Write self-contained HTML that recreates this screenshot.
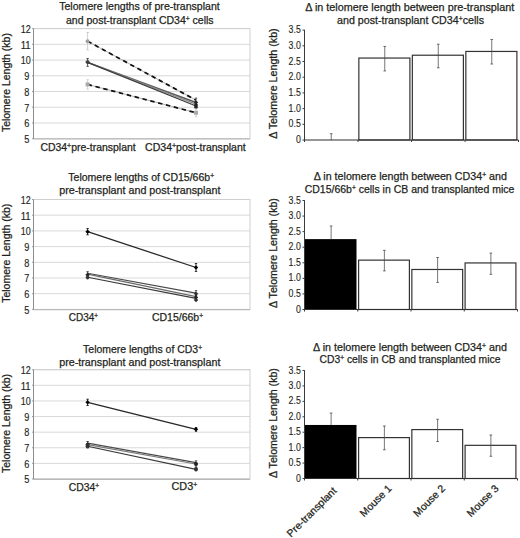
<!DOCTYPE html>
<html><head><meta charset="utf-8"><style>html,body{margin:0;padding:0;background:#fff;width:520px;height:538px;overflow:hidden}svg{display:block}</style></head>
<body><svg width="520" height="538" viewBox="0 0 520 538" font-family='"Liberation Sans", sans-serif'>
<rect width="520" height="538" fill="#fff"/>
<line x1="33.50" y1="122.97" x2="250.00" y2="122.97" stroke="#d9d9d9" stroke-width="1" />
<line x1="33.50" y1="107.24" x2="250.00" y2="107.24" stroke="#d9d9d9" stroke-width="1" />
<line x1="33.50" y1="91.51" x2="250.00" y2="91.51" stroke="#d9d9d9" stroke-width="1" />
<line x1="33.50" y1="75.79" x2="250.00" y2="75.79" stroke="#d9d9d9" stroke-width="1" />
<line x1="33.50" y1="60.06" x2="250.00" y2="60.06" stroke="#d9d9d9" stroke-width="1" />
<line x1="33.50" y1="44.33" x2="250.00" y2="44.33" stroke="#d9d9d9" stroke-width="1" />
<line x1="33.50" y1="28.60" x2="250.00" y2="28.60" stroke="#d9d9d9" stroke-width="1" />
<rect x="33.50" y="28.60" width="216.50" height="110.10" fill="none" stroke="#cfcfcf" stroke-width="1"/>
<line x1="33.50" y1="138.90" x2="250.00" y2="138.90" stroke="#bababa" stroke-width="1.4" />
<line x1="33.50" y1="28.60" x2="33.50" y2="138.70" stroke="#8c8c8c" stroke-width="1" />
<line x1="32.00" y1="138.70" x2="33.50" y2="138.70" stroke="#9a9a9a" stroke-width="1" />
<line x1="32.00" y1="122.97" x2="33.50" y2="122.97" stroke="#9a9a9a" stroke-width="1" />
<line x1="32.00" y1="107.24" x2="33.50" y2="107.24" stroke="#9a9a9a" stroke-width="1" />
<line x1="32.00" y1="91.51" x2="33.50" y2="91.51" stroke="#9a9a9a" stroke-width="1" />
<line x1="32.00" y1="75.79" x2="33.50" y2="75.79" stroke="#9a9a9a" stroke-width="1" />
<line x1="32.00" y1="60.06" x2="33.50" y2="60.06" stroke="#9a9a9a" stroke-width="1" />
<line x1="32.00" y1="44.33" x2="33.50" y2="44.33" stroke="#9a9a9a" stroke-width="1" />
<line x1="32.00" y1="28.60" x2="33.50" y2="28.60" stroke="#9a9a9a" stroke-width="1" />
<text x="29.40" y="143.00" font-size="10.4" text-anchor="end" fill="#231f20" stroke="#231f20" stroke-width="0.15" textLength="5.1" lengthAdjust="spacingAndGlyphs" >5</text>
<text x="29.40" y="127.27" font-size="10.4" text-anchor="end" fill="#231f20" stroke="#231f20" stroke-width="0.15" textLength="5.1" lengthAdjust="spacingAndGlyphs" >6</text>
<text x="29.40" y="111.54" font-size="10.4" text-anchor="end" fill="#231f20" stroke="#231f20" stroke-width="0.15" textLength="5.1" lengthAdjust="spacingAndGlyphs" >7</text>
<text x="29.40" y="95.81" font-size="10.4" text-anchor="end" fill="#231f20" stroke="#231f20" stroke-width="0.15" textLength="5.1" lengthAdjust="spacingAndGlyphs" >8</text>
<text x="29.40" y="80.09" font-size="10.4" text-anchor="end" fill="#231f20" stroke="#231f20" stroke-width="0.15" textLength="5.1" lengthAdjust="spacingAndGlyphs" >9</text>
<text x="30.70" y="64.36" font-size="10.4" text-anchor="end" fill="#231f20" stroke="#231f20" stroke-width="0.15" textLength="10.0" lengthAdjust="spacingAndGlyphs" >10</text>
<text x="30.70" y="48.63" font-size="10.4" text-anchor="end" fill="#231f20" stroke="#231f20" stroke-width="0.15" textLength="10.0" lengthAdjust="spacingAndGlyphs" >11</text>
<text x="30.70" y="32.90" font-size="10.4" text-anchor="end" fill="#231f20" stroke="#231f20" stroke-width="0.15" textLength="10.0" lengthAdjust="spacingAndGlyphs" >12</text>
<line x1="87.60" y1="62.42" x2="196.00" y2="102.52" stroke="#5a5a5a" stroke-width="1.5" />
<line x1="87.60" y1="62.42" x2="196.00" y2="104.10" stroke="#8a8a8a" stroke-width="1.3" />
<line x1="87.60" y1="62.42" x2="196.00" y2="105.98" stroke="#3c3c3c" stroke-width="1.3" />
<line x1="87.60" y1="41.18" x2="196.00" y2="100.16" stroke="#9a9a9a" stroke-width="0.8" />
<line x1="87.60" y1="41.18" x2="196.00" y2="100.16" stroke="#111" stroke-width="1.75" stroke-dasharray="4.4 3.7"/>
<line x1="87.60" y1="84.44" x2="196.00" y2="112.75" stroke="#9a9a9a" stroke-width="0.8" />
<line x1="87.60" y1="84.44" x2="196.00" y2="112.75" stroke="#111" stroke-width="1.75" stroke-dasharray="4.4 3.7"/>
<line x1="87.60" y1="32.53" x2="87.60" y2="49.83" stroke="#c4c4c4" stroke-width="0.8" />
<line x1="86.40" y1="32.53" x2="88.80" y2="32.53" stroke="#c4c4c4" stroke-width="0.8" />
<line x1="86.40" y1="49.83" x2="88.80" y2="49.83" stroke="#c4c4c4" stroke-width="0.8" />
<circle cx="87.60" cy="41.18" r="2" fill="#a0a0a0"/>
<line x1="87.60" y1="58.48" x2="87.60" y2="66.35" stroke="#333" stroke-width="0.8" />
<line x1="86.40" y1="58.48" x2="88.80" y2="58.48" stroke="#333" stroke-width="0.8" />
<line x1="86.40" y1="66.35" x2="88.80" y2="66.35" stroke="#333" stroke-width="0.8" />
<path d="M87.60 60.22 L89.80 62.42 L87.60 64.62 L85.40 62.42Z" fill="#333"/>
<path d="M87.60 59.43 L89.80 61.63 L87.60 63.83 L85.40 61.63Z" fill="#444"/>
<line x1="87.60" y1="79.72" x2="87.60" y2="89.15" stroke="#c8c8c8" stroke-width="0.8" />
<line x1="86.40" y1="79.72" x2="88.80" y2="79.72" stroke="#c8c8c8" stroke-width="0.8" />
<line x1="86.40" y1="89.15" x2="88.80" y2="89.15" stroke="#c8c8c8" stroke-width="0.8" />
<rect x="85.60" y="82.44" width="4" height="4" fill="#a8a8a8"/>
<line x1="196.00" y1="98.12" x2="196.00" y2="106.93" stroke="#333" stroke-width="0.8" />
<line x1="194.80" y1="98.12" x2="197.20" y2="98.12" stroke="#333" stroke-width="0.8" />
<line x1="194.80" y1="106.93" x2="197.20" y2="106.93" stroke="#333" stroke-width="0.8" />
<path d="M196.00 100.32 L198.20 102.52 L196.00 104.72 L193.80 102.52Z" fill="#333"/>
<line x1="196.00" y1="101.74" x2="196.00" y2="108.03" stroke="#222" stroke-width="0.8" />
<line x1="194.80" y1="101.74" x2="197.20" y2="101.74" stroke="#222" stroke-width="0.8" />
<line x1="194.80" y1="108.03" x2="197.20" y2="108.03" stroke="#222" stroke-width="0.8" />
<path d="M196.00 102.68 L198.20 104.88 L196.00 107.08 L193.80 104.88Z" fill="#222"/>
<line x1="196.00" y1="105.36" x2="196.00" y2="108.50" stroke="#222" stroke-width="0.8" />
<line x1="194.80" y1="105.36" x2="197.20" y2="105.36" stroke="#222" stroke-width="0.8" />
<line x1="194.80" y1="108.50" x2="197.20" y2="108.50" stroke="#222" stroke-width="0.8" />
<path d="M196.00 104.73 L198.20 106.93 L196.00 109.13 L193.80 106.93Z" fill="#222"/>
<line x1="196.00" y1="108.82" x2="196.00" y2="116.68" stroke="#c8c8c8" stroke-width="0.8" />
<line x1="194.80" y1="108.82" x2="197.20" y2="108.82" stroke="#c8c8c8" stroke-width="0.8" />
<line x1="194.80" y1="116.68" x2="197.20" y2="116.68" stroke="#c8c8c8" stroke-width="0.8" />
<rect x="194.00" y="110.75" width="4" height="4" fill="#aaa"/>
<text x="59.20" y="10.00" font-size="10.8" text-anchor="start" fill="#231f20" stroke="#231f20" stroke-width="0.25" textLength="160.6" lengthAdjust="spacingAndGlyphs" >Telomere lengths of pre-transplant</text>
<text x="66.00" y="23.50" font-size="10.8" text-anchor="start" fill="#231f20" stroke="#231f20" stroke-width="0.25" textLength="147.6" lengthAdjust="spacingAndGlyphs" >and post-transplant CD34<tspan dy="-2.8" font-size="6.8">+</tspan><tspan dy="2.8"> cells</tspan></text>
<text x="40.40" y="150.70" font-size="10.2" text-anchor="start" fill="#231f20" stroke="#231f20" stroke-width="0.25" textLength="95.3" lengthAdjust="spacingAndGlyphs" >CD34<tspan dy="-2.8" font-size="6.8">+</tspan><tspan dy="2.8">pre-transplant</tspan></text>
<text x="145.10" y="150.70" font-size="10.2" text-anchor="start" fill="#231f20" stroke="#231f20" stroke-width="0.25" textLength="100.6" lengthAdjust="spacingAndGlyphs" >CD34<tspan dy="-2.8" font-size="6.8">+</tspan><tspan dy="2.8">post-transplant</tspan></text>
<text x="0.00" y="0.00" font-size="10.2" text-anchor="middle" fill="#231f20" stroke="#231f20" stroke-width="0.25" textLength="99.0" lengthAdjust="spacingAndGlyphs" transform="translate(9.5 82.6) rotate(-90)">Telomere Length (kb)</text>
<line x1="33.50" y1="293.70" x2="250.00" y2="293.70" stroke="#d9d9d9" stroke-width="1" />
<line x1="33.50" y1="278.00" x2="250.00" y2="278.00" stroke="#d9d9d9" stroke-width="1" />
<line x1="33.50" y1="262.30" x2="250.00" y2="262.30" stroke="#d9d9d9" stroke-width="1" />
<line x1="33.50" y1="246.60" x2="250.00" y2="246.60" stroke="#d9d9d9" stroke-width="1" />
<line x1="33.50" y1="230.90" x2="250.00" y2="230.90" stroke="#d9d9d9" stroke-width="1" />
<line x1="33.50" y1="215.20" x2="250.00" y2="215.20" stroke="#d9d9d9" stroke-width="1" />
<line x1="33.50" y1="199.50" x2="250.00" y2="199.50" stroke="#d9d9d9" stroke-width="1" />
<rect x="33.50" y="199.50" width="216.50" height="109.90" fill="none" stroke="#cfcfcf" stroke-width="1"/>
<line x1="33.50" y1="309.60" x2="250.00" y2="309.60" stroke="#bababa" stroke-width="1.4" />
<line x1="33.50" y1="199.50" x2="33.50" y2="309.40" stroke="#8c8c8c" stroke-width="1" />
<line x1="32.00" y1="309.40" x2="33.50" y2="309.40" stroke="#9a9a9a" stroke-width="1" />
<line x1="32.00" y1="293.70" x2="33.50" y2="293.70" stroke="#9a9a9a" stroke-width="1" />
<line x1="32.00" y1="278.00" x2="33.50" y2="278.00" stroke="#9a9a9a" stroke-width="1" />
<line x1="32.00" y1="262.30" x2="33.50" y2="262.30" stroke="#9a9a9a" stroke-width="1" />
<line x1="32.00" y1="246.60" x2="33.50" y2="246.60" stroke="#9a9a9a" stroke-width="1" />
<line x1="32.00" y1="230.90" x2="33.50" y2="230.90" stroke="#9a9a9a" stroke-width="1" />
<line x1="32.00" y1="215.20" x2="33.50" y2="215.20" stroke="#9a9a9a" stroke-width="1" />
<line x1="32.00" y1="199.50" x2="33.50" y2="199.50" stroke="#9a9a9a" stroke-width="1" />
<text x="29.40" y="313.70" font-size="10.4" text-anchor="end" fill="#231f20" stroke="#231f20" stroke-width="0.15" textLength="5.1" lengthAdjust="spacingAndGlyphs" >5</text>
<text x="29.40" y="298.00" font-size="10.4" text-anchor="end" fill="#231f20" stroke="#231f20" stroke-width="0.15" textLength="5.1" lengthAdjust="spacingAndGlyphs" >6</text>
<text x="29.40" y="282.30" font-size="10.4" text-anchor="end" fill="#231f20" stroke="#231f20" stroke-width="0.15" textLength="5.1" lengthAdjust="spacingAndGlyphs" >7</text>
<text x="29.40" y="266.60" font-size="10.4" text-anchor="end" fill="#231f20" stroke="#231f20" stroke-width="0.15" textLength="5.1" lengthAdjust="spacingAndGlyphs" >8</text>
<text x="29.40" y="250.90" font-size="10.4" text-anchor="end" fill="#231f20" stroke="#231f20" stroke-width="0.15" textLength="5.1" lengthAdjust="spacingAndGlyphs" >9</text>
<text x="30.70" y="235.20" font-size="10.4" text-anchor="end" fill="#231f20" stroke="#231f20" stroke-width="0.15" textLength="10.0" lengthAdjust="spacingAndGlyphs" >10</text>
<text x="30.70" y="219.50" font-size="10.4" text-anchor="end" fill="#231f20" stroke="#231f20" stroke-width="0.15" textLength="10.0" lengthAdjust="spacingAndGlyphs" >11</text>
<text x="30.70" y="203.80" font-size="10.4" text-anchor="end" fill="#231f20" stroke="#231f20" stroke-width="0.15" textLength="10.0" lengthAdjust="spacingAndGlyphs" >12</text>
<line x1="87.60" y1="231.69" x2="196.00" y2="267.48" stroke="#262626" stroke-width="1.25" />
<line x1="87.60" y1="273.29" x2="196.00" y2="293.07" stroke="#4a4a4a" stroke-width="1.15" />
<line x1="87.60" y1="274.07" x2="196.00" y2="296.68" stroke="#6a6a6a" stroke-width="1.15" />
<line x1="87.60" y1="277.21" x2="196.00" y2="298.41" stroke="#3a3a3a" stroke-width="1.15" />
<line x1="87.60" y1="228.55" x2="87.60" y2="234.82" stroke="#000" stroke-width="0.8" />
<line x1="86.40" y1="228.55" x2="88.80" y2="228.55" stroke="#000" stroke-width="0.8" />
<line x1="86.40" y1="234.82" x2="88.80" y2="234.82" stroke="#000" stroke-width="0.8" />
<path d="M87.60 229.49 L89.80 231.69 L87.60 233.88 L85.40 231.69Z" fill="#000"/>
<line x1="196.00" y1="263.56" x2="196.00" y2="271.41" stroke="#000" stroke-width="0.8" />
<line x1="194.80" y1="263.56" x2="197.20" y2="263.56" stroke="#000" stroke-width="0.8" />
<line x1="194.80" y1="271.41" x2="197.20" y2="271.41" stroke="#000" stroke-width="0.8" />
<path d="M196.00 265.28 L198.20 267.48 L196.00 269.68 L193.80 267.48Z" fill="#000"/>
<line x1="87.60" y1="271.72" x2="87.60" y2="278.00" stroke="#222" stroke-width="0.8" />
<line x1="86.40" y1="271.72" x2="88.80" y2="271.72" stroke="#222" stroke-width="0.8" />
<line x1="86.40" y1="278.00" x2="88.80" y2="278.00" stroke="#222" stroke-width="0.8" />
<path d="M87.60 272.66 L89.80 274.86 L87.60 277.06 L85.40 274.86Z" fill="#222"/>
<line x1="87.60" y1="275.64" x2="87.60" y2="278.78" stroke="#333" stroke-width="0.8" />
<line x1="86.40" y1="275.64" x2="88.80" y2="275.64" stroke="#333" stroke-width="0.8" />
<line x1="86.40" y1="278.78" x2="88.80" y2="278.78" stroke="#333" stroke-width="0.8" />
<path d="M87.60 275.01 L89.80 277.21 L87.60 279.41 L85.40 277.21Z" fill="#333"/>
<line x1="196.00" y1="290.56" x2="196.00" y2="296.84" stroke="#333" stroke-width="0.8" />
<line x1="194.80" y1="290.56" x2="197.20" y2="290.56" stroke="#333" stroke-width="0.8" />
<line x1="194.80" y1="296.84" x2="197.20" y2="296.84" stroke="#333" stroke-width="0.8" />
<path d="M196.00 291.50 L198.20 293.70 L196.00 295.90 L193.80 293.70Z" fill="#333"/>
<line x1="196.00" y1="295.27" x2="196.00" y2="299.98" stroke="#222" stroke-width="0.8" />
<line x1="194.80" y1="295.27" x2="197.20" y2="295.27" stroke="#222" stroke-width="0.8" />
<line x1="194.80" y1="299.98" x2="197.20" y2="299.98" stroke="#222" stroke-width="0.8" />
<path d="M196.00 295.43 L198.20 297.62 L196.00 299.82 L193.80 297.62Z" fill="#222"/>
<path d="M196.00 297.78 L198.20 299.98 L196.00 302.18 L193.80 299.98Z" fill="#333"/>
<text x="68.30" y="180.60" font-size="10.8" text-anchor="start" fill="#231f20" stroke="#231f20" stroke-width="0.25" textLength="145.7" lengthAdjust="spacingAndGlyphs" >Telomere lengths of CD15/66b<tspan dy="-2.8" font-size="6.8">+</tspan></text>
<text x="59.20" y="194.00" font-size="10.8" text-anchor="start" fill="#231f20" stroke="#231f20" stroke-width="0.25" textLength="161.2" lengthAdjust="spacingAndGlyphs" >pre-transplant and post-transplant</text>
<text x="68.70" y="321.20" font-size="10.8" text-anchor="start" fill="#231f20" stroke="#231f20" stroke-width="0.25" textLength="29.3" lengthAdjust="spacingAndGlyphs" >CD34<tspan dy="-2.8" font-size="6.8">+</tspan></text>
<text x="152.00" y="321.20" font-size="10.8" text-anchor="start" fill="#231f20" stroke="#231f20" stroke-width="0.25" textLength="51.0" lengthAdjust="spacingAndGlyphs" >CD15/66b<tspan dy="-2.8" font-size="6.8">+</tspan></text>
<text x="0.00" y="0.00" font-size="10.2" text-anchor="middle" fill="#231f20" stroke="#231f20" stroke-width="0.25" textLength="99.0" lengthAdjust="spacingAndGlyphs" transform="translate(9.5 253.3) rotate(-90)">Telomere Length (kb)</text>
<line x1="33.50" y1="463.39" x2="250.00" y2="463.39" stroke="#d9d9d9" stroke-width="1" />
<line x1="33.50" y1="447.77" x2="250.00" y2="447.77" stroke="#d9d9d9" stroke-width="1" />
<line x1="33.50" y1="432.16" x2="250.00" y2="432.16" stroke="#d9d9d9" stroke-width="1" />
<line x1="33.50" y1="416.54" x2="250.00" y2="416.54" stroke="#d9d9d9" stroke-width="1" />
<line x1="33.50" y1="400.93" x2="250.00" y2="400.93" stroke="#d9d9d9" stroke-width="1" />
<line x1="33.50" y1="385.31" x2="250.00" y2="385.31" stroke="#d9d9d9" stroke-width="1" />
<line x1="33.50" y1="369.70" x2="250.00" y2="369.70" stroke="#d9d9d9" stroke-width="1" />
<rect x="33.50" y="369.70" width="216.50" height="109.30" fill="none" stroke="#cfcfcf" stroke-width="1"/>
<line x1="33.50" y1="479.20" x2="250.00" y2="479.20" stroke="#bababa" stroke-width="1.4" />
<line x1="33.50" y1="369.70" x2="33.50" y2="479.00" stroke="#8c8c8c" stroke-width="1" />
<line x1="32.00" y1="479.00" x2="33.50" y2="479.00" stroke="#9a9a9a" stroke-width="1" />
<line x1="32.00" y1="463.39" x2="33.50" y2="463.39" stroke="#9a9a9a" stroke-width="1" />
<line x1="32.00" y1="447.77" x2="33.50" y2="447.77" stroke="#9a9a9a" stroke-width="1" />
<line x1="32.00" y1="432.16" x2="33.50" y2="432.16" stroke="#9a9a9a" stroke-width="1" />
<line x1="32.00" y1="416.54" x2="33.50" y2="416.54" stroke="#9a9a9a" stroke-width="1" />
<line x1="32.00" y1="400.93" x2="33.50" y2="400.93" stroke="#9a9a9a" stroke-width="1" />
<line x1="32.00" y1="385.31" x2="33.50" y2="385.31" stroke="#9a9a9a" stroke-width="1" />
<line x1="32.00" y1="369.70" x2="33.50" y2="369.70" stroke="#9a9a9a" stroke-width="1" />
<text x="29.40" y="483.30" font-size="10.4" text-anchor="end" fill="#231f20" stroke="#231f20" stroke-width="0.15" textLength="5.1" lengthAdjust="spacingAndGlyphs" >5</text>
<text x="29.40" y="467.69" font-size="10.4" text-anchor="end" fill="#231f20" stroke="#231f20" stroke-width="0.15" textLength="5.1" lengthAdjust="spacingAndGlyphs" >6</text>
<text x="29.40" y="452.07" font-size="10.4" text-anchor="end" fill="#231f20" stroke="#231f20" stroke-width="0.15" textLength="5.1" lengthAdjust="spacingAndGlyphs" >7</text>
<text x="29.40" y="436.46" font-size="10.4" text-anchor="end" fill="#231f20" stroke="#231f20" stroke-width="0.15" textLength="5.1" lengthAdjust="spacingAndGlyphs" >8</text>
<text x="29.40" y="420.84" font-size="10.4" text-anchor="end" fill="#231f20" stroke="#231f20" stroke-width="0.15" textLength="5.1" lengthAdjust="spacingAndGlyphs" >9</text>
<text x="30.70" y="405.23" font-size="10.4" text-anchor="end" fill="#231f20" stroke="#231f20" stroke-width="0.15" textLength="10.0" lengthAdjust="spacingAndGlyphs" >10</text>
<text x="30.70" y="389.61" font-size="10.4" text-anchor="end" fill="#231f20" stroke="#231f20" stroke-width="0.15" textLength="10.0" lengthAdjust="spacingAndGlyphs" >11</text>
<text x="30.70" y="374.00" font-size="10.4" text-anchor="end" fill="#231f20" stroke="#231f20" stroke-width="0.15" textLength="10.0" lengthAdjust="spacingAndGlyphs" >12</text>
<line x1="87.60" y1="402.33" x2="196.00" y2="429.35" stroke="#262626" stroke-width="1.25" />
<line x1="87.60" y1="443.09" x2="196.00" y2="462.61" stroke="#4a4a4a" stroke-width="1.15" />
<line x1="87.60" y1="444.65" x2="196.00" y2="464.01" stroke="#7a7a7a" stroke-width="1.15" />
<line x1="87.60" y1="446.21" x2="196.00" y2="469.32" stroke="#3a3a3a" stroke-width="1.15" />
<line x1="87.60" y1="399.21" x2="87.60" y2="405.46" stroke="#000" stroke-width="0.8" />
<line x1="86.40" y1="399.21" x2="88.80" y2="399.21" stroke="#000" stroke-width="0.8" />
<line x1="86.40" y1="405.46" x2="88.80" y2="405.46" stroke="#000" stroke-width="0.8" />
<path d="M87.60 400.13 L89.80 402.33 L87.60 404.53 L85.40 402.33Z" fill="#000"/>
<line x1="196.00" y1="427.47" x2="196.00" y2="431.22" stroke="#000" stroke-width="0.8" />
<line x1="194.80" y1="427.47" x2="197.20" y2="427.47" stroke="#000" stroke-width="0.8" />
<line x1="194.80" y1="431.22" x2="197.20" y2="431.22" stroke="#000" stroke-width="0.8" />
<path d="M196.00 427.15 L198.20 429.35 L196.00 431.55 L193.80 429.35Z" fill="#000"/>
<line x1="87.60" y1="441.53" x2="87.60" y2="447.77" stroke="#222" stroke-width="0.8" />
<line x1="86.40" y1="441.53" x2="88.80" y2="441.53" stroke="#222" stroke-width="0.8" />
<line x1="86.40" y1="447.77" x2="88.80" y2="447.77" stroke="#222" stroke-width="0.8" />
<circle cx="87.60" cy="444.65" r="2" fill="#222"/>
<line x1="87.60" y1="444.65" x2="87.60" y2="447.77" stroke="#333" stroke-width="0.8" />
<line x1="86.40" y1="444.65" x2="88.80" y2="444.65" stroke="#333" stroke-width="0.8" />
<line x1="86.40" y1="447.77" x2="88.80" y2="447.77" stroke="#333" stroke-width="0.8" />
<circle cx="87.60" cy="446.21" r="2" fill="#333"/>
<line x1="196.00" y1="460.89" x2="196.00" y2="467.13" stroke="#222" stroke-width="0.8" />
<line x1="194.80" y1="460.89" x2="197.20" y2="460.89" stroke="#222" stroke-width="0.8" />
<line x1="194.80" y1="467.13" x2="197.20" y2="467.13" stroke="#222" stroke-width="0.8" />
<circle cx="196.00" cy="464.01" r="2" fill="#222"/>
<line x1="196.00" y1="467.76" x2="196.00" y2="470.88" stroke="#333" stroke-width="0.8" />
<line x1="194.80" y1="467.76" x2="197.20" y2="467.76" stroke="#333" stroke-width="0.8" />
<line x1="194.80" y1="470.88" x2="197.20" y2="470.88" stroke="#333" stroke-width="0.8" />
<circle cx="196.00" cy="469.32" r="2" fill="#333"/>
<text x="83.10" y="353.10" font-size="10.8" text-anchor="start" fill="#231f20" stroke="#231f20" stroke-width="0.25" textLength="118.9" lengthAdjust="spacingAndGlyphs" >Telomere lengths of CD3<tspan dy="-2.8" font-size="6.8">+</tspan></text>
<text x="59.20" y="366.00" font-size="10.8" text-anchor="start" fill="#231f20" stroke="#231f20" stroke-width="0.25" textLength="161.2" lengthAdjust="spacingAndGlyphs" >pre-transplant and post-transplant</text>
<text x="68.70" y="490.60" font-size="10.8" text-anchor="start" fill="#231f20" stroke="#231f20" stroke-width="0.25" textLength="30.3" lengthAdjust="spacingAndGlyphs" >CD34<tspan dy="-2.8" font-size="6.8">+</tspan></text>
<text x="171.50" y="490.20" font-size="10.8" text-anchor="start" fill="#231f20" stroke="#231f20" stroke-width="0.25" textLength="25.7" lengthAdjust="spacingAndGlyphs" >CD3<tspan dy="-2.8" font-size="6.8">+</tspan></text>
<text x="0.00" y="0.00" font-size="10.2" text-anchor="middle" fill="#231f20" stroke="#231f20" stroke-width="0.25" textLength="99.0" lengthAdjust="spacingAndGlyphs" transform="translate(9.5 423.5) rotate(-90)">Telomere Length (kb)</text>
<line x1="331.25" y1="133.72" x2="331.25" y2="140.00" stroke="#4a4a4a" stroke-width="0.75" />
<line x1="329.95" y1="133.72" x2="332.55" y2="133.72" stroke="#4a4a4a" stroke-width="0.8" />
<rect x="358.85" y="58.05" width="51.05" height="81.95" fill="#fff" stroke="#333" stroke-width="1.2"/>
<line x1="384.75" y1="46.43" x2="384.75" y2="70.92" stroke="#4a4a4a" stroke-width="0.75" />
<line x1="383.45" y1="46.43" x2="386.05" y2="46.43" stroke="#4a4a4a" stroke-width="0.8" />
<line x1="383.45" y1="70.92" x2="386.05" y2="70.92" stroke="#4a4a4a" stroke-width="0.8" />
<rect x="412.35" y="55.22" width="51.05" height="84.78" fill="#fff" stroke="#333" stroke-width="1.2"/>
<line x1="438.25" y1="44.23" x2="438.25" y2="67.78" stroke="#4a4a4a" stroke-width="0.75" />
<line x1="436.95" y1="44.23" x2="439.55" y2="44.23" stroke="#4a4a4a" stroke-width="0.8" />
<line x1="436.95" y1="67.78" x2="439.55" y2="67.78" stroke="#4a4a4a" stroke-width="0.8" />
<rect x="465.85" y="51.45" width="51.05" height="88.55" fill="#fff" stroke="#333" stroke-width="1.2"/>
<line x1="491.75" y1="39.52" x2="491.75" y2="64.01" stroke="#4a4a4a" stroke-width="0.75" />
<line x1="490.45" y1="39.52" x2="493.05" y2="39.52" stroke="#4a4a4a" stroke-width="0.8" />
<line x1="490.45" y1="64.01" x2="493.05" y2="64.01" stroke="#4a4a4a" stroke-width="0.8" />
<line x1="304.50" y1="29.80" x2="304.50" y2="140.50" stroke="#3a3a3a" stroke-width="1" />
<line x1="304.50" y1="140.00" x2="518.50" y2="140.00" stroke="#2e2e2e" stroke-width="1.15" />
<line x1="302.50" y1="140.00" x2="304.50" y2="140.00" stroke="#3a3a3a" stroke-width="1" />
<text x="300.80" y="143.00" font-size="10.0" text-anchor="end" fill="#231f20" stroke="#231f20" stroke-width="0.12" textLength="4.9" lengthAdjust="spacingAndGlyphs" >0</text>
<line x1="302.50" y1="124.30" x2="304.50" y2="124.30" stroke="#3a3a3a" stroke-width="1" />
<text x="300.80" y="127.30" font-size="10.0" text-anchor="end" fill="#231f20" stroke="#231f20" stroke-width="0.12" textLength="12.2" lengthAdjust="spacingAndGlyphs" >0.5</text>
<line x1="302.50" y1="108.60" x2="304.50" y2="108.60" stroke="#3a3a3a" stroke-width="1" />
<text x="300.80" y="111.60" font-size="10.0" text-anchor="end" fill="#231f20" stroke="#231f20" stroke-width="0.12" textLength="12.2" lengthAdjust="spacingAndGlyphs" >1.0</text>
<line x1="302.50" y1="92.90" x2="304.50" y2="92.90" stroke="#3a3a3a" stroke-width="1" />
<text x="300.80" y="95.90" font-size="10.0" text-anchor="end" fill="#231f20" stroke="#231f20" stroke-width="0.12" textLength="12.2" lengthAdjust="spacingAndGlyphs" >1.5</text>
<line x1="302.50" y1="77.20" x2="304.50" y2="77.20" stroke="#3a3a3a" stroke-width="1" />
<text x="300.80" y="80.20" font-size="10.0" text-anchor="end" fill="#231f20" stroke="#231f20" stroke-width="0.12" textLength="12.2" lengthAdjust="spacingAndGlyphs" >2.0</text>
<line x1="302.50" y1="61.50" x2="304.50" y2="61.50" stroke="#3a3a3a" stroke-width="1" />
<text x="300.80" y="64.50" font-size="10.0" text-anchor="end" fill="#231f20" stroke="#231f20" stroke-width="0.12" textLength="12.2" lengthAdjust="spacingAndGlyphs" >2.5</text>
<line x1="302.50" y1="45.80" x2="304.50" y2="45.80" stroke="#3a3a3a" stroke-width="1" />
<text x="300.80" y="48.80" font-size="10.0" text-anchor="end" fill="#231f20" stroke="#231f20" stroke-width="0.12" textLength="12.2" lengthAdjust="spacingAndGlyphs" >3.0</text>
<line x1="302.50" y1="30.10" x2="304.50" y2="30.10" stroke="#3a3a3a" stroke-width="1" />
<text x="300.80" y="33.10" font-size="10.0" text-anchor="end" fill="#231f20" stroke="#231f20" stroke-width="0.12" textLength="12.2" lengthAdjust="spacingAndGlyphs" >3.5</text>
<line x1="304.50" y1="140.00" x2="304.50" y2="142.00" stroke="#3a3a3a" stroke-width="1" />
<line x1="358.00" y1="140.00" x2="358.00" y2="142.00" stroke="#3a3a3a" stroke-width="1" />
<line x1="411.50" y1="140.00" x2="411.50" y2="142.00" stroke="#3a3a3a" stroke-width="1" />
<line x1="465.00" y1="140.00" x2="465.00" y2="142.00" stroke="#3a3a3a" stroke-width="1" />
<line x1="518.50" y1="140.00" x2="518.50" y2="142.00" stroke="#3a3a3a" stroke-width="1" />
<text x="305.30" y="10.60" font-size="10.8" text-anchor="start" fill="#231f20" stroke="#231f20" stroke-width="0.25" textLength="209.0" lengthAdjust="spacingAndGlyphs" >Δ in telomere length between pre-transplant</text>
<text x="337.00" y="23.70" font-size="10.8" text-anchor="start" fill="#231f20" stroke="#231f20" stroke-width="0.25" textLength="147.0" lengthAdjust="spacingAndGlyphs" >and post-transplant CD34<tspan dy="-2.8" font-size="6.8">+</tspan><tspan dy="2.8">cells</tspan></text>
<text x="0.00" y="0.00" font-size="10" text-anchor="middle" fill="#231f20" stroke="#231f20" stroke-width="0.25" textLength="110.5" lengthAdjust="spacingAndGlyphs" transform="translate(276.6 83.6) rotate(-90)">Δ Telomere Length (kb)</text>
<rect x="304.50" y="239.12" width="52.00" height="70.38" fill="#000"/>
<line x1="331.12" y1="226.04" x2="331.12" y2="239.12" stroke="#4a4a4a" stroke-width="0.75" />
<line x1="329.82" y1="226.04" x2="332.43" y2="226.04" stroke="#4a4a4a" stroke-width="0.8" />
<rect x="358.60" y="260.14" width="50.80" height="49.36" fill="#fff" stroke="#333" stroke-width="1.2"/>
<line x1="384.38" y1="250.33" x2="384.38" y2="270.88" stroke="#4a4a4a" stroke-width="0.75" />
<line x1="383.07" y1="250.33" x2="385.68" y2="250.33" stroke="#4a4a4a" stroke-width="0.8" />
<line x1="383.07" y1="270.88" x2="385.68" y2="270.88" stroke="#4a4a4a" stroke-width="0.8" />
<rect x="411.85" y="269.48" width="50.80" height="40.02" fill="#fff" stroke="#333" stroke-width="1.2"/>
<line x1="437.62" y1="257.49" x2="437.62" y2="282.41" stroke="#4a4a4a" stroke-width="0.75" />
<line x1="436.32" y1="257.49" x2="438.93" y2="257.49" stroke="#4a4a4a" stroke-width="0.8" />
<line x1="436.32" y1="282.41" x2="438.93" y2="282.41" stroke="#4a4a4a" stroke-width="0.8" />
<rect x="465.10" y="262.94" width="50.80" height="46.56" fill="#fff" stroke="#333" stroke-width="1.2"/>
<line x1="490.88" y1="253.13" x2="490.88" y2="274.31" stroke="#4a4a4a" stroke-width="0.75" />
<line x1="489.57" y1="253.13" x2="492.18" y2="253.13" stroke="#4a4a4a" stroke-width="0.8" />
<line x1="489.57" y1="274.31" x2="492.18" y2="274.31" stroke="#4a4a4a" stroke-width="0.8" />
<line x1="304.50" y1="200.20" x2="304.50" y2="310.00" stroke="#3a3a3a" stroke-width="1" />
<line x1="304.50" y1="309.50" x2="517.50" y2="309.50" stroke="#2e2e2e" stroke-width="1.15" />
<line x1="302.50" y1="309.50" x2="304.50" y2="309.50" stroke="#3a3a3a" stroke-width="1" />
<text x="300.80" y="312.50" font-size="10.0" text-anchor="end" fill="#231f20" stroke="#231f20" stroke-width="0.12" textLength="4.9" lengthAdjust="spacingAndGlyphs" >0</text>
<line x1="302.50" y1="293.93" x2="304.50" y2="293.93" stroke="#3a3a3a" stroke-width="1" />
<text x="300.80" y="296.93" font-size="10.0" text-anchor="end" fill="#231f20" stroke="#231f20" stroke-width="0.12" textLength="12.2" lengthAdjust="spacingAndGlyphs" >0.5</text>
<line x1="302.50" y1="278.36" x2="304.50" y2="278.36" stroke="#3a3a3a" stroke-width="1" />
<text x="300.80" y="281.36" font-size="10.0" text-anchor="end" fill="#231f20" stroke="#231f20" stroke-width="0.12" textLength="12.2" lengthAdjust="spacingAndGlyphs" >1.0</text>
<line x1="302.50" y1="262.79" x2="304.50" y2="262.79" stroke="#3a3a3a" stroke-width="1" />
<text x="300.80" y="265.79" font-size="10.0" text-anchor="end" fill="#231f20" stroke="#231f20" stroke-width="0.12" textLength="12.2" lengthAdjust="spacingAndGlyphs" >1.5</text>
<line x1="302.50" y1="247.21" x2="304.50" y2="247.21" stroke="#3a3a3a" stroke-width="1" />
<text x="300.80" y="250.21" font-size="10.0" text-anchor="end" fill="#231f20" stroke="#231f20" stroke-width="0.12" textLength="12.2" lengthAdjust="spacingAndGlyphs" >2.0</text>
<line x1="302.50" y1="231.64" x2="304.50" y2="231.64" stroke="#3a3a3a" stroke-width="1" />
<text x="300.80" y="234.64" font-size="10.0" text-anchor="end" fill="#231f20" stroke="#231f20" stroke-width="0.12" textLength="12.2" lengthAdjust="spacingAndGlyphs" >2.5</text>
<line x1="302.50" y1="216.07" x2="304.50" y2="216.07" stroke="#3a3a3a" stroke-width="1" />
<text x="300.80" y="219.07" font-size="10.0" text-anchor="end" fill="#231f20" stroke="#231f20" stroke-width="0.12" textLength="12.2" lengthAdjust="spacingAndGlyphs" >3.0</text>
<line x1="302.50" y1="200.50" x2="304.50" y2="200.50" stroke="#3a3a3a" stroke-width="1" />
<text x="300.80" y="203.50" font-size="10.0" text-anchor="end" fill="#231f20" stroke="#231f20" stroke-width="0.12" textLength="12.2" lengthAdjust="spacingAndGlyphs" >3.5</text>
<line x1="304.50" y1="309.50" x2="304.50" y2="311.50" stroke="#3a3a3a" stroke-width="1" />
<line x1="357.75" y1="309.50" x2="357.75" y2="311.50" stroke="#3a3a3a" stroke-width="1" />
<line x1="411.00" y1="309.50" x2="411.00" y2="311.50" stroke="#3a3a3a" stroke-width="1" />
<line x1="464.25" y1="309.50" x2="464.25" y2="311.50" stroke="#3a3a3a" stroke-width="1" />
<line x1="517.50" y1="309.50" x2="517.50" y2="311.50" stroke="#3a3a3a" stroke-width="1" />
<text x="313.80" y="180.20" font-size="10.8" text-anchor="start" fill="#231f20" stroke="#231f20" stroke-width="0.25" textLength="193.1" lengthAdjust="spacingAndGlyphs" >Δ in telomere length between CD34<tspan dy="-2.8" font-size="6.8">+</tspan><tspan dy="2.8"> and</tspan></text>
<text x="304.70" y="192.80" font-size="10.8" text-anchor="start" fill="#231f20" stroke="#231f20" stroke-width="0.25" textLength="209.6" lengthAdjust="spacingAndGlyphs" >CD15/66b<tspan dy="-2.8" font-size="6.8">+</tspan><tspan dy="2.8"> cells in CB and transplanted mice</tspan></text>
<text x="0.00" y="0.00" font-size="10" text-anchor="middle" fill="#231f20" stroke="#231f20" stroke-width="0.25" textLength="109.8" lengthAdjust="spacingAndGlyphs" transform="translate(276.6 253) rotate(-90)">Δ Telomere Length (kb)</text>
<rect x="304.50" y="424.96" width="52.00" height="53.54" fill="#000"/>
<line x1="331.12" y1="413.08" x2="331.12" y2="424.96" stroke="#4a4a4a" stroke-width="0.75" />
<line x1="329.82" y1="413.08" x2="332.43" y2="413.08" stroke="#4a4a4a" stroke-width="0.8" />
<rect x="358.60" y="437.61" width="50.80" height="40.89" fill="#fff" stroke="#333" stroke-width="1.2"/>
<line x1="384.38" y1="426.04" x2="384.38" y2="449.80" stroke="#4a4a4a" stroke-width="0.75" />
<line x1="383.07" y1="426.04" x2="385.68" y2="426.04" stroke="#4a4a4a" stroke-width="0.8" />
<line x1="383.07" y1="449.80" x2="385.68" y2="449.80" stroke="#4a4a4a" stroke-width="0.8" />
<rect x="411.85" y="429.59" width="50.80" height="48.91" fill="#fff" stroke="#333" stroke-width="1.2"/>
<line x1="437.62" y1="419.25" x2="437.62" y2="441.47" stroke="#4a4a4a" stroke-width="0.75" />
<line x1="436.32" y1="419.25" x2="438.93" y2="419.25" stroke="#4a4a4a" stroke-width="0.8" />
<line x1="436.32" y1="441.47" x2="438.93" y2="441.47" stroke="#4a4a4a" stroke-width="0.8" />
<rect x="465.10" y="445.33" width="50.80" height="33.17" fill="#fff" stroke="#333" stroke-width="1.2"/>
<line x1="490.88" y1="434.99" x2="490.88" y2="456.28" stroke="#4a4a4a" stroke-width="0.75" />
<line x1="489.57" y1="434.99" x2="492.18" y2="434.99" stroke="#4a4a4a" stroke-width="0.8" />
<line x1="489.57" y1="456.28" x2="492.18" y2="456.28" stroke="#4a4a4a" stroke-width="0.8" />
<line x1="304.50" y1="370.20" x2="304.50" y2="479.00" stroke="#3a3a3a" stroke-width="1" />
<line x1="304.50" y1="478.50" x2="517.50" y2="478.50" stroke="#2e2e2e" stroke-width="1.15" />
<line x1="302.50" y1="478.50" x2="304.50" y2="478.50" stroke="#3a3a3a" stroke-width="1" />
<text x="300.80" y="481.50" font-size="10.0" text-anchor="end" fill="#231f20" stroke="#231f20" stroke-width="0.12" textLength="4.9" lengthAdjust="spacingAndGlyphs" >0</text>
<line x1="302.50" y1="463.07" x2="304.50" y2="463.07" stroke="#3a3a3a" stroke-width="1" />
<text x="300.80" y="466.07" font-size="10.0" text-anchor="end" fill="#231f20" stroke="#231f20" stroke-width="0.12" textLength="12.2" lengthAdjust="spacingAndGlyphs" >0.5</text>
<line x1="302.50" y1="447.64" x2="304.50" y2="447.64" stroke="#3a3a3a" stroke-width="1" />
<text x="300.80" y="450.64" font-size="10.0" text-anchor="end" fill="#231f20" stroke="#231f20" stroke-width="0.12" textLength="12.2" lengthAdjust="spacingAndGlyphs" >1.0</text>
<line x1="302.50" y1="432.21" x2="304.50" y2="432.21" stroke="#3a3a3a" stroke-width="1" />
<text x="300.80" y="435.21" font-size="10.0" text-anchor="end" fill="#231f20" stroke="#231f20" stroke-width="0.12" textLength="12.2" lengthAdjust="spacingAndGlyphs" >1.5</text>
<line x1="302.50" y1="416.79" x2="304.50" y2="416.79" stroke="#3a3a3a" stroke-width="1" />
<text x="300.80" y="419.79" font-size="10.0" text-anchor="end" fill="#231f20" stroke="#231f20" stroke-width="0.12" textLength="12.2" lengthAdjust="spacingAndGlyphs" >2.0</text>
<line x1="302.50" y1="401.36" x2="304.50" y2="401.36" stroke="#3a3a3a" stroke-width="1" />
<text x="300.80" y="404.36" font-size="10.0" text-anchor="end" fill="#231f20" stroke="#231f20" stroke-width="0.12" textLength="12.2" lengthAdjust="spacingAndGlyphs" >2.5</text>
<line x1="302.50" y1="385.93" x2="304.50" y2="385.93" stroke="#3a3a3a" stroke-width="1" />
<text x="300.80" y="388.93" font-size="10.0" text-anchor="end" fill="#231f20" stroke="#231f20" stroke-width="0.12" textLength="12.2" lengthAdjust="spacingAndGlyphs" >3.0</text>
<line x1="302.50" y1="370.50" x2="304.50" y2="370.50" stroke="#3a3a3a" stroke-width="1" />
<text x="300.80" y="373.50" font-size="10.0" text-anchor="end" fill="#231f20" stroke="#231f20" stroke-width="0.12" textLength="12.2" lengthAdjust="spacingAndGlyphs" >3.5</text>
<line x1="304.50" y1="478.50" x2="304.50" y2="480.50" stroke="#3a3a3a" stroke-width="1" />
<line x1="357.75" y1="478.50" x2="357.75" y2="480.50" stroke="#3a3a3a" stroke-width="1" />
<line x1="411.00" y1="478.50" x2="411.00" y2="480.50" stroke="#3a3a3a" stroke-width="1" />
<line x1="464.25" y1="478.50" x2="464.25" y2="480.50" stroke="#3a3a3a" stroke-width="1" />
<line x1="517.50" y1="478.50" x2="517.50" y2="480.50" stroke="#3a3a3a" stroke-width="1" />
<text x="313.10" y="350.60" font-size="10.8" text-anchor="start" fill="#231f20" stroke="#231f20" stroke-width="0.25" textLength="193.8" lengthAdjust="spacingAndGlyphs" >Δ in telomere length between CD34<tspan dy="-2.8" font-size="6.8">+</tspan><tspan dy="2.8"> and</tspan></text>
<text x="319.50" y="362.80" font-size="10.8" text-anchor="start" fill="#231f20" stroke="#231f20" stroke-width="0.25" textLength="181.0" lengthAdjust="spacingAndGlyphs" >CD3<tspan dy="-2.8" font-size="6.8">+</tspan><tspan dy="2.8"> cells in CB and transplanted mice</tspan></text>
<text x="0.00" y="0.00" font-size="10" text-anchor="middle" fill="#231f20" stroke="#231f20" stroke-width="0.25" textLength="109.8" lengthAdjust="spacingAndGlyphs" transform="translate(276.6 423) rotate(-90)">Δ Telomere Length (kb)</text>
<text x="0.00" y="0.00" font-size="10.4" text-anchor="end" fill="#231f20" stroke="#231f20" stroke-width="0.25" transform="translate(337.25 491.50) rotate(-45)">Pre-transplant</text>
<text x="0.00" y="0.00" font-size="10.4" text-anchor="end" fill="#231f20" stroke="#231f20" stroke-width="0.25" transform="translate(392.25 489.20) rotate(-45)">Mouse 1</text>
<text x="0.00" y="0.00" font-size="10.4" text-anchor="end" fill="#231f20" stroke="#231f20" stroke-width="0.25" transform="translate(445.75 489.20) rotate(-45)">Mouse 2</text>
<text x="0.00" y="0.00" font-size="10.4" text-anchor="end" fill="#231f20" stroke="#231f20" stroke-width="0.25" transform="translate(499.25 489.20) rotate(-45)">Mouse 3</text>
</svg></body></html>
